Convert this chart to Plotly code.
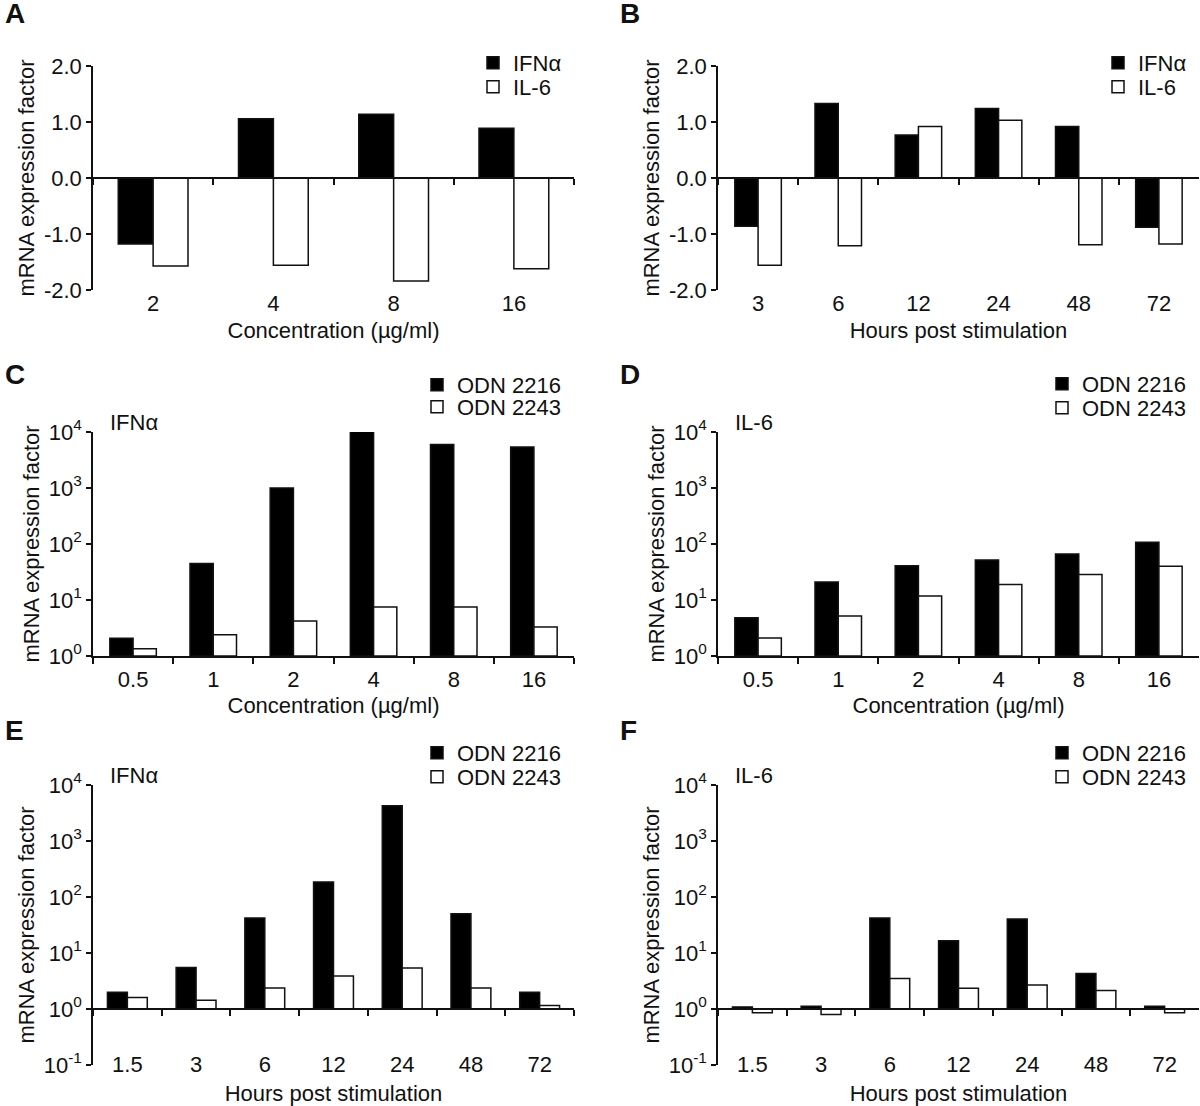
import plotly.graph_objects as go

W, H = 1200, 1106
FONT = "Liberation Sans, Arial, sans-serif"
INK = "#111111"
FS = 22

# ---------------- data ----------------
conc_A = ["2", "4", "8", "16"]
A_ifna = [-1.18, 1.06, 1.14, 0.89]
A_il6 = [-1.57, -1.56, -1.84, -1.62]

hours_B = ["3", "6", "12", "24", "48", "72"]
B_ifna = [-0.86, 1.33, 0.77, 1.24, 0.92, -0.88]
B_il6 = [-1.56, -1.21, 0.92, 1.03, -1.19, -1.18]

conc_CD = ["0.5", "1", "2", "4", "8", "16"]
C_2216 = [2.07, 45, 1000, 12400, 6000, 5400]
C_2243 = [1.35, 2.4, 4.2, 7.5, 7.5, 3.3]
D_2216 = [4.8, 21, 41, 52, 66, 108]
D_2243 = [2.1, 5.2, 11.8, 19, 28.5, 40]

hours_EF = ["1.5", "3", "6", "12", "24", "48", "72"]
E_2216 = [2.0, 5.5, 42, 185, 4250, 50, 2.0]
E_2243 = [1.6, 1.43, 2.37, 3.9, 5.4, 2.37, 1.15]
F_2216 = [1.09, 1.12, 42, 16.6, 40.5, 4.3, 1.12]
F_2243 = [0.86, 0.80, 3.5, 2.34, 2.68, 2.13, 0.86]

lin_ticks = [-2, -1, 0, 1, 2]
lin_ticktext = ["-2.0", "-1.0", "0.0", "1.0", "2.0"]
exp_CD = [0, 1, 2, 3, 4]
exp_EF = [-1, 0, 1, 2, 3, 4]

names_AB = ["IFN\u03b1", "IL-6"]
names_CF = ["ODN 2216", "ODN 2243"]
xtitle_conc = "Concentration (\u00b5g/ml)"
xtitle_hours = "Hours post stimulation"
ytitle = "mRNA expression factor"

# ---------------- layout helpers ----------------
def px_x(p):
    return p / W

def px_y(p):
    return 1 - p / H

LEFT = (93, 574)
RIGHT = (718, 1199)

panels = [
    dict(letter="A", cats=conc_A, s1=A_ifna, s2=A_il6, names=names_AB, log=False,
         xr=LEFT, yr=(66, 290), axis_px=178, lab_off=106, xtitle=xtitle_conc, tstand=6,
         leg_x=473, leg_y=(63, 87), tag=None, letter_xy=(3, -4)),
    dict(letter="B", cats=hours_B, s1=B_ifna, s2=B_il6, names=names_AB, log=False,
         xr=RIGHT, yr=(66, 290), axis_px=178, lab_off=106, xtitle=xtitle_hours, tstand=6,
         leg_x=1098, leg_y=(63, 87), tag=None, letter_xy=(618, -4)),
    dict(letter="C", cats=conc_CD, s1=C_2216, s2=C_2243, names=names_CF, log=True, exps=exp_CD,
         xr=LEFT, yr=(432, 656), axis_px=None, lab_off=3, xtitle=xtitle_conc, tstand=6,
         leg_x=417, leg_y=(385, 407), tag="IFN\u03b1", letter_xy=(3, 357)),
    dict(letter="D", cats=conc_CD, s1=D_2216, s2=D_2243, names=names_CF, log=True, exps=exp_CD,
         xr=RIGHT, yr=(432, 656), axis_px=None, lab_off=3, xtitle=xtitle_conc, tstand=6,
         leg_x=1042, leg_y=(384, 408), tag="IL-6", letter_xy=(618, 357)),
    dict(letter="E", cats=hours_EF, s1=E_2216, s2=E_2243, names=names_CF, log=True, exps=exp_EF,
         xr=LEFT, yr=(785, 1065), axis_px=1009, lab_off=36, xtitle=xtitle_hours, tstand=12,
         leg_x=417, leg_y=(753, 777), tag="IFN\u03b1", letter_xy=(3, 713)),
    dict(letter="F", cats=hours_EF, s1=F_2216, s2=F_2243, names=names_CF, log=True, exps=exp_EF,
         xr=RIGHT, yr=(785, 1065), axis_px=1009, lab_off=36, xtitle=xtitle_hours, tstand=12,
         leg_x=1042, leg_y=(753, 777), tag="IL-6", letter_xy=(618, 713)),
]

fig = go.Figure()
layout = dict(
    width=W, height=H,
    margin=dict(l=0, r=0, t=0, b=0, autoexpand=False),
    paper_bgcolor="white", plot_bgcolor="white",
    font=dict(family=FONT, size=FS, color=INK),
    barmode="group", bargap=0.42, bargroupgap=0.0,
    showlegend=True,
)
annotations = []
leg_n = 0

for i, p in enumerate(panels, start=1):
    xa = f"x{i}" if i > 1 else "x"
    ya = f"y{i}" if i > 1 else "y"
    xkey = f"xaxis{i}" if i > 1 else "xaxis"
    ykey = f"yaxis{i}" if i > 1 else "yaxis"

    fills = ["black", "white"]
    for k, (vals, nm) in enumerate(zip([p["s1"], p["s2"]], p["names"])):
        leg_n += 1
        lref = "legend" if leg_n == 1 else f"legend{leg_n}"
        bar_kw = dict(
            x=p["cats"], name=nm, xaxis=xa, yaxis=ya,
            marker=dict(color=fills[k], line=dict(color=INK, width=1.5)),
            legend=lref, showlegend=True, offsetgroup=str(k),
        )
        if p["log"]:
            bar_kw["base"] = 1
            bar_kw["y"] = [v - 1 for v in vals]
        else:
            bar_kw["y"] = vals
        fig.add_trace(go.Bar(**bar_kw))
        layout[lref] = dict(
            x=px_x(p["leg_x"]), y=px_y(p["leg_y"][k]), xanchor="left", yanchor="middle",
            bgcolor="rgba(0,0,0,0)", borderwidth=0,
            font=dict(family=FONT, size=FS, color=INK),
        )

    xdom = [px_x(p["xr"][0]), px_x(p["xr"][1])]
    ydom = [px_y(p["yr"][1]), px_y(p["yr"][0])]

    xaxis = dict(
        domain=xdom, type="category", tickson="boundaries",
        ticks="outside", ticklen=6, tickwidth=1.5, tickcolor=INK,
        showline=True, linecolor=INK, linewidth=1.5,
        showgrid=False, zeroline=False,
        tickfont=dict(family=FONT, size=FS, color=INK),
        ticklabelstandoff=p["lab_off"],
        title=dict(text=p["xtitle"], font=dict(family=FONT, size=FS, color=INK),
                   standoff=p["tstand"]),
        fixedrange=True,
    )
    if p["axis_px"] is not None:
        xaxis.update(anchor="free", position=px_y(p["axis_px"]))
    else:
        xaxis.update(anchor=ya)

    yaxis = dict(
        domain=ydom, anchor=xa,
        ticks="outside", ticklen=5, tickwidth=1.5, tickcolor=INK,
        showline=True, linecolor=INK, linewidth=1.5,
        showgrid=False, zeroline=False,
        tickfont=dict(family=FONT, size=FS, color=INK),
        title=dict(text=ytitle, font=dict(family=FONT, size=FS, color=INK), standoff=3),
        fixedrange=True,
    )
    if p["log"]:
        yaxis.update(type="log", range=[p["exps"][0], p["exps"][-1]],
                     tickvals=[10.0 ** e for e in p["exps"]],
                     ticktext=[f"10<sup>{e}</sup>" for e in p["exps"]])
    else:
        yaxis.update(type="linear", range=[lin_ticks[0], lin_ticks[-1]],
                     tickvals=lin_ticks, ticktext=lin_ticktext)

    layout[xkey] = xaxis
    layout[ykey] = yaxis

    lx, ly = p["letter_xy"]
    annotations.append(dict(
        text=f"<b>{p['letter']}</b>", xref="paper", yref="paper",
        x=px_x(lx), y=px_y(ly), xanchor="left", yanchor="top", showarrow=False,
        font=dict(family=FONT, size=28, color=INK),
    ))
    if p["tag"]:
        annotations.append(dict(
            text=p["tag"], xref="paper", yref="paper",
            x=px_x(p["xr"][0] + 15), y=px_y(p["yr"][0] - 10), xanchor="left", yanchor="middle",
            showarrow=False, font=dict(family=FONT, size=FS, color=INK),
        ))

layout["annotations"] = annotations
fig.update_layout(**layout)
fig.write_html("out.html", config={"displayModeBar": False},
               post_script="document.body.style.margin='0';")
